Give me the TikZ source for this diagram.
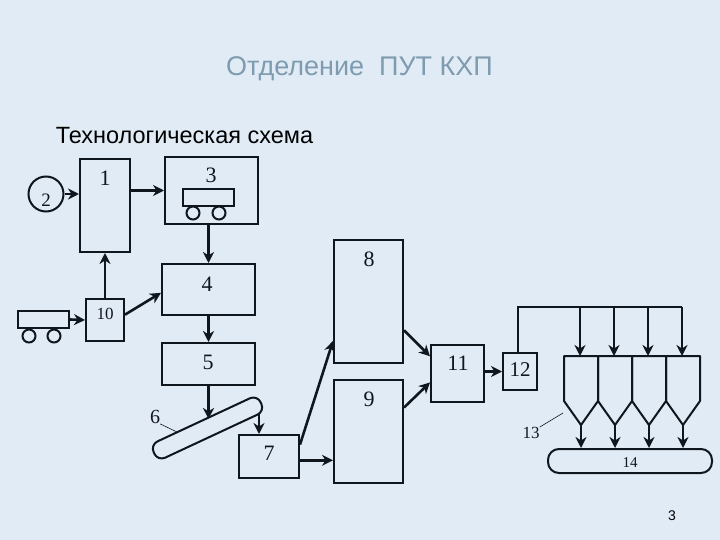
\documentclass[tikz,border=0pt]{standalone}
\usepackage{fontspec}
\setmainfont{Liberation Serif}
\newfontfamily\headfont{Liberation Sans}
\usetikzlibrary{arrows.meta}
\definecolor{slidebg}{HTML}{E1EBF5}
\definecolor{headblue}{HTML}{7F9BB0}
\definecolor{inkline}{HTML}{10161E}
\tikzset{
    numbox/.style={draw=inkline, line width=2pt, inner sep=0pt},
    numtext/.style={inner sep=0pt, text=inkline, font=\fontsize{22}{22}\selectfont},
    smalltext/.style={inner sep=0pt, text=inkline, font=\fontsize{17}{17}\selectfont},
    wheel/.style={circle, draw=inkline, line width=2pt, minimum size=13pt, inner sep=0pt},
    flow/.style={draw=inkline, line width=2.6pt, -{Stealth[inset=3.5pt,length=11pt,width=11pt]}},
    leader/.style={draw=inkline, line width=0.6pt}
}
\begin{document}
\begin{tikzpicture}[x=1pt,y=-1pt]
    % Page
    \fill[slidebg] (0,0) rectangle (720,540);
    \useasboundingbox (0,0) rectangle (720,540);

    % Headings
    \node[inner sep=0pt, text=headblue, font=\headfont\fontsize{27}{27}\selectfont] (title) at (359.5,69) {Отделение\ \ ПУТ КХП};
    \node[inner sep=0pt, text=black, font=\headfont\fontsize{23.5}{23.5}\selectfont] (subtitle) at (184.5,136) {Технологическая схема};
    \node[inner sep=0pt, font=\headfont\fontsize{14}{14}\selectfont] (pagenum) at (672,516) {3};

    % Boxes
    \node[numbox, minimum width=50pt, minimum height=93pt] (box1) at (105,205.5) {};
    \node[numbox, minimum width=93pt, minimum height=67pt] (box3) at (211.5,190.5) {};
    \node[numbox, minimum width=93pt, minimum height=51pt] (box4) at (208.5,289.5) {};
    \node[numbox, minimum width=38pt, minimum height=42pt] (box10) at (105,320) {};
    \node[numbox, minimum width=93pt, minimum height=42pt] (box5) at (208.5,364) {};
    \node[numbox, minimum width=60pt, minimum height=43pt] (box7) at (269,456.5) {};
    \node[numbox, minimum width=69pt, minimum height=123pt] (box8) at (368.5,301.5) {};
    \node[numbox, minimum width=69pt, minimum height=103pt] (box9) at (368.5,431.5) {};
    \node[numbox, minimum width=53pt, minimum height=57pt] (box11) at (457.5,373.5) {};
    \node[numbox, minimum width=34pt, minimum height=37pt] (box12) at (520,371.5) {};
    \node[numbox, circle, minimum size=35pt] (circ2) at (46,194) {};
    \node[numbox, rounded corners=8pt, rotate=25, minimum width=118pt, minimum height=18pt] (conv6) at (207.5,428) {};
    \node[numbox, rounded corners=11pt, minimum width=164pt, minimum height=24pt] (belt14) at (630,461) {};

    % Carts
    \node[numbox, minimum width=51pt, minimum height=17pt] (cart3) at (208.5,197.5) {};
    \node[wheel] (wheel3a) at (193,213) {};
    \node[wheel] (wheel3b) at (219,213) {};
    \node[numbox, minimum width=51pt, minimum height=17pt] (cart10) at (43.5,319.5) {};
    \node[wheel] (wheel10a) at (29,336) {};
    \node[wheel] (wheel10b) at (54,336) {};

    % Numbers
    \node[numtext] (num1) at (105,178) {1};
    \node[numtext, font=\fontsize{19}{19}\selectfont] (num2) at (46,200) {2};
    \node[numtext] (num3) at (211,175) {3};
    \node[numtext] (num4) at (207,284) {4};
    \node[numtext] (num5) at (208,362) {5};
    \node[numtext, font=\fontsize{20}{20}\selectfont] (num6) at (155,417) {6};
    \node[numtext] (num7) at (269,453) {7};
    \node[numtext] (num8) at (369,259) {8};
    \node[numtext] (num9) at (369,399) {9};
    \node[smalltext] (num10) at (105,314) {10};
    \node[numtext] (num11) at (458,363) {11};
    \node[numtext, font=\fontsize{21}{21}\selectfont] (num12) at (520,370) {12};
    \node[smalltext] (num13) at (531,433) {13};
    \node[smalltext, font=\fontsize{15}{15}\selectfont] (num14) at (630,463) {14};

    % Free ends
    \coordinate (convin) at (177,432);
    \coordinate (convout) at (259,413);
    \coordinate (hopleft) at (563,413);
    \coordinate (bus) at (518,307);

    % Hoppers, with their feeds and outlets
    \foreach \n/\x in {1/564, 2/598, 3/632, 4/666} {
        \coordinate (top\n) at (\x+17,356);
        \coordinate (drop\n) at (\x+16,307);
        \coordinate (tip\n) at (\x+17,425);
        \draw[draw=inkline, line width=2pt, line join=round] (\x,356) -- (\x+34,356) -- (\x+34,401) -- (tip\n) -- (\x,401) -- cycle;
        \draw[flow] (drop\n) -- (drop\n |- top\n);
        \draw[flow] (tip\n) -- (tip\n |- belt14.north);
    }

    % Flows
    \draw[flow] (circ2.east) -- (circ2.east -| box1.west);
    \draw[flow] (box1.east |- box3.west) -- (box3.west);
    \draw[flow] (box4.north |- box3.south) -- (box4.north);
    \draw[flow, line width=2pt] (box10.north) -- (box1.south);
    \draw[flow] (cart10.east) -- (box10.west);
    \draw[flow] (box10.15) -- (box4.184);
    \draw[flow] (box4.south) -- (box5.north);
    \draw[flow] (box5.south) -- (box5.south |- conv6.north);
    \draw[flow] (convout) -- (convout |- box7.north);
    \draw[flow] (box7.21) -- (box8.228);
    \draw[flow] (box7.-7) -- (box7.-7 -| box9.west);
    \draw[flow] (box8.321) -- (box11.148);
    \draw[flow] (box9.34) -- (box11.198);
    \draw[flow] (box11.east |- box12.west) -- (box12.west);
    \draw[draw=inkline, line width=2.2pt] (bus |- box12.north) -- (bus) -- (drop4);

    % Leaders
    \draw[leader] (num6.south east) -- (convin);
    \draw[leader] (num13.north east) -- (hopleft);
\end{tikzpicture}
\end{document}
